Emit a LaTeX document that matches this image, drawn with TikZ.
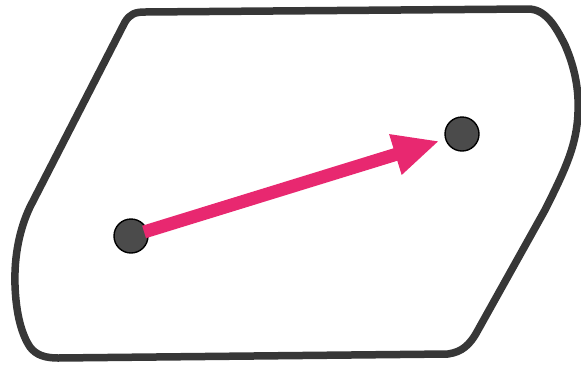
\documentclass[tikz,border=0pt]{standalone}
\usetikzlibrary{arrows.meta}
\definecolor{pinkarr}{RGB}{232,40,112}
\definecolor{outl}{RGB}{55,55,55}
\definecolor{dotfill}{RGB}{75,75,75}
\tikzset{
  outline/.style={draw=outl,line width=7.5pt,line join=round,fill=white},
  dotnode/.style={circle,fill=dotfill,draw=black,line width=1.4pt,minimum size=34pt,inner sep=0pt},
  arr/.style={draw=pinkarr,line width=13pt,-{Triangle[length=46pt,width=39pt]}}
}
\begin{document}
\begin{tikzpicture}[x=1pt,y=-1pt]
\useasboundingbox (0,0) rectangle (581,373);
\path[outline] (145,12) -- (528,9)
  .. controls (545,9) and (555,25) .. (565,45)
  .. controls (575,68) and (579,90) .. (578,112)
  .. controls (577,145) and (565,170) .. (545,210)
  -- (478,330)
  .. controls (470,345) and (462,352) .. (448,354)
  -- (58,358)
  .. controls (45,358) and (36,355) .. (30,347)
  .. controls (22,335) and (16,315) .. (15,285)
  .. controls (14,255) and (20,228) .. (30,207)
  -- (125,22)
  .. controls (130,14) and (135,12) .. (145,12) -- cycle;
\node[dotnode] (a) at (131,236) {};
\node[dotnode] (b) at (462,134) {};
\draw[arr,shorten >=6pt,shorten <=-4pt] (a) -- (b);
\end{tikzpicture}
\end{document}
